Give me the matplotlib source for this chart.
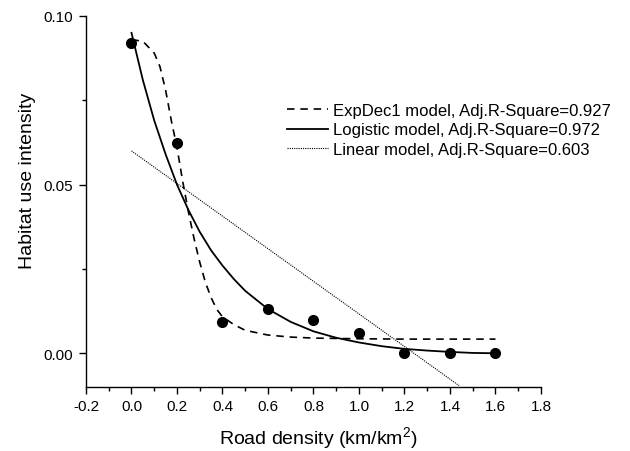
import matplotlib
matplotlib.use("Agg")
import matplotlib.pyplot as plt
from matplotlib.ticker import MultipleLocator

plt.rcParams['font.family'] = ['Liberation Sans', 'DejaVu Sans']
plt.rcParams['mathtext.fontset'] = 'custom'
plt.rcParams['mathtext.rm'] = 'Liberation Sans'

# observed habitat use intensity
road_density = [0.0, 0.2, 0.4, 0.6, 0.8, 1.0, 1.2, 1.4, 1.6]
use_intensity = [0.092, 0.0623, 0.0092, 0.0131, 0.0099, 0.0059, 0.0, 0.0, 0.0]

# fitted curves
expdec_x = [0.0, 0.05, 0.1, 0.125, 0.15, 0.175, 0.2, 0.225, 0.25, 0.275, 0.3, 0.325,
            0.35, 0.375, 0.4, 0.45, 0.5, 0.6, 0.7, 0.8, 1.0, 1.2, 1.4, 1.6]
expdec_y = [0.093, 0.0925, 0.089, 0.085, 0.078, 0.069, 0.061, 0.051, 0.042, 0.034, 0.027, 0.021,
            0.0165, 0.013, 0.0108, 0.0085, 0.0068, 0.0054, 0.0048, 0.0045, 0.0043, 0.0042, 0.0042, 0.0042]

logistic_x = [0.0, 0.05, 0.1, 0.15, 0.2, 0.25, 0.3, 0.35, 0.4, 0.45, 0.5, 0.6, 0.7, 0.8,
              0.9, 1.0, 1.1, 1.2, 1.3, 1.4, 1.5, 1.6]
logistic_y = [0.095, 0.081, 0.069, 0.059, 0.050, 0.0425, 0.036, 0.0305, 0.026, 0.022, 0.0185,
              0.0131, 0.0093, 0.0065, 0.0046, 0.0032, 0.0021, 0.0013, 0.0008, 0.0004, 0.0001, 0.0]

linear_x = [0.0, 1.44]
linear_y = [0.060, -0.0096]

labels = ["ExpDec1 model, Adj.R-Square=0.927",
          "Logistic model, Adj.R-Square=0.972",
          "Linear model, Adj.R-Square=0.603"]

fig = plt.figure(figsize=(6.3, 4.52), dpi=100)
ax = fig.add_axes([0.1365, 0.1416, 0.7222, 0.8208])

ax.plot(expdec_x, expdec_y, color='black', lw=1.2, dashes=(4.5, 3.5), label=labels[0])
ax.plot(logistic_x, logistic_y, color='black', lw=1.3, label=labels[1])
ax.plot(linear_x, linear_y, color='black', lw=0.8, dashes=(1, 1), label=labels[2])
ax.plot(road_density, use_intensity, 'o', color='black', ms=7, zorder=5)

ax.set_xlim(-0.2, 1.8)
ax.set_ylim(-0.01, 0.10)
ax.xaxis.set_major_locator(MultipleLocator(0.2))
ax.xaxis.set_minor_locator(MultipleLocator(0.1))
ax.set_yticks([0.0, 0.05, 0.10])
ax.set_yticklabels(["0.00", "0.05", "0.10"])
ax.yaxis.set_minor_locator(MultipleLocator(0.025))
ax.set_xticks(ax.get_xticks())
ax.set_xticklabels(["%.1f" % v for v in ax.get_xticks()])
ax.set_xlim(-0.2, 1.8)

ax.spines['top'].set_visible(False)
ax.spines['right'].set_visible(False)
for s in ['left', 'bottom']:
    ax.spines[s].set_linewidth(1.0)
ax.tick_params(which='major', direction='out', length=5, width=1.0, labelsize=11, pad=4)
ax.tick_params(which='minor', direction='out', length=3, width=1.0)

ax.set_xlabel("Road density (km/km$^2$)", fontsize=14)
ax.xaxis.set_label_coords(0.51, -0.1)
ax.set_ylabel("Habitat use intensity", fontsize=14)
ax.yaxis.set_label_coords(-0.11, 0.558)

ax.legend(loc='upper left', bbox_to_anchor=(0.442, 0.765), frameon=False, fontsize=12,
          handlelength=2.45, handletextpad=0.3, labelspacing=0.25, borderpad=0, borderaxespad=0)

fig.savefig("out.png", dpi=100)
